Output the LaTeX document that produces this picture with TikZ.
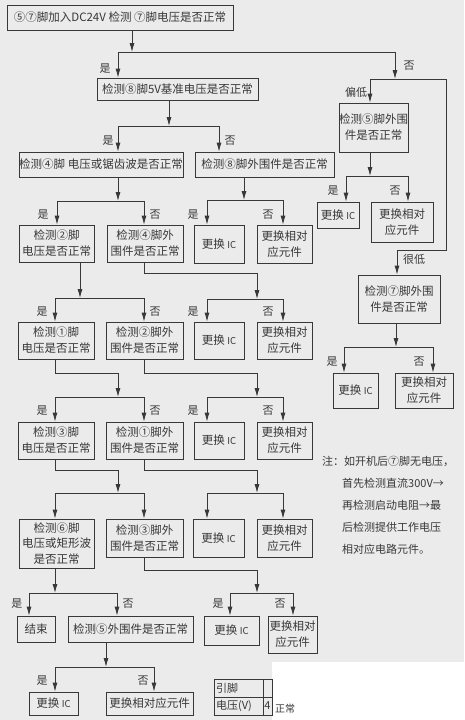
\documentclass[tikz,border=0pt]{standalone}
\usepackage{fontspec}
\setmainfont{Noto Sans CJK SC}
\usetikzlibrary{arrows.meta}
\definecolor{bg}{HTML}{EBEBEB}
\definecolor{ink}{HTML}{383838}
\newcommand{\ic}{{\fontsize{9.5}{9.5}\selectfont IC}}
\tikzset{
  box/.style={draw=ink, line width=0.8pt, inner sep=0pt, align=center, text=ink,
    font=\fontsize{11.5}{16}\selectfont},
  lab/.style={inner sep=0pt, text=ink, font=\fontsize{11}{12}\selectfont},
  arr/.style={draw=ink, line width=0.8pt, -{Latex[length=9pt,width=5pt]}},
  ln/.style={draw=ink, line width=0.8pt},
}
\newcommand{\fork}[7]{%
  \coordinate (#1-j) at (#2,#3);
  \coordinate (#1-l) at (#4,#3);
  \coordinate (#1-r) at (#5,#3);
  \draw[arr] (#1.south -| #1-j) -- (#1-j);
  \draw[ln] (#1-l) -- (#1-r);
  \draw[arr] (#1-l) -- (#1-l |- #6.north);
  \draw[arr] (#1-r) -- (#1-r |- #7.north);}
\newcommand{\jog}[9]{%
  \coordinate (#1-a) at (#2,#3);
  \coordinate (#1-b) at (#4,#3);
  \coordinate (#1-j) at (#4,#5);
  \coordinate (#1-l) at (#6,#5);
  \coordinate (#1-r) at (#7,#5);
  \draw[arr] (#1.south -| #1-a) -- (#1-a) -- (#1-b) -- (#1-j);
  \draw[ln] (#1-l) -- (#1-r);
  \draw[arr] (#1-l) -- (#1-l |- #8.north);
  \draw[arr] (#1-r) -- (#1-r |- #9.north);}
\begin{document}
\begin{tikzpicture}[x=1pt,y=-1pt]
\fill[bg] (0,0) rectangle (464,720);
\useasboundingbox (0,0) rectangle (464,720);

% main column
\node[box, minimum width=226pt, minimum height=25pt] (t) at (120,17.5) {⑤⑦脚加入DC24V 检测 ⑦脚电压是否正常};
\node[box, minimum width=161pt, minimum height=22pt] (b2) at (177.5,89) {检测⑧脚5V基准电压是否正常};
\node[box, minimum width=164pt, minimum height=25pt] (b3) at (101,164.5) {检测④脚 电压或锯齿波是否正常};
\node[box, minimum width=139pt, minimum height=25pt] (b4) at (264.5,164.5) {检测⑧脚外围件是否正常};

\node[box, minimum width=75pt, minimum height=37pt] (c1) at (56.5,243.5) {检测②脚\\电压是否正常};
\node[box, minimum width=76pt, minimum height=37pt] (c2) at (145,243.5) {检测④脚外\\围件是否正常};
\node[box, minimum width=50pt, minimum height=38pt] (c3) at (219,244) {更换 \ic};
\node[box, minimum width=55pt, minimum height=38pt] (c4) at (284.5,244) {更换相对\\应元件};

\node[box, minimum width=76pt, minimum height=37pt] (d1) at (56,340.5) {检测①脚\\电压是否正常};
\node[box, minimum width=77pt, minimum height=37pt] (d2) at (144.5,340.5) {检测②脚外\\围件是否正常};
\node[box, minimum width=50pt, minimum height=37pt] (d3) at (219,340.5) {更换 \ic};
\node[box, minimum width=55pt, minimum height=37pt] (d4) at (284.5,340.5) {更换相对\\应元件};

\node[box, minimum width=76pt, minimum height=37pt] (e1) at (56,440.5) {检测③脚\\电压是否正常};
\node[box, minimum width=77pt, minimum height=37pt] (e2) at (144.5,440.5) {检测①脚外\\围件是否正常};
\node[box, minimum width=50pt, minimum height=37pt] (e3) at (219,440.5) {更换 \ic};
\node[box, minimum width=55pt, minimum height=37pt] (e4) at (284.5,440.5) {更换相对\\应元件};

\node[box, minimum width=75pt, minimum height=49pt, font=\fontsize{11.5}{15.5}\selectfont] (f1) at (56.5,543.5) {检测⑥脚\\电压或矩形波\\是否正常};
\node[box, minimum width=77pt, minimum height=38pt] (f2) at (144.5,538) {检测③脚外\\围件是否正常};
\node[box, minimum width=51pt, minimum height=38pt] (f3) at (218.5,538) {更换 \ic};
\node[box, minimum width=55pt, minimum height=38pt] (f4) at (284.5,538) {更换相对\\应元件};

\node[box, minimum width=38pt, minimum height=26pt] (g1) at (36,629) {结束};
\node[box, minimum width=125pt, minimum height=26pt] (g2) at (130.5,629) {检测⑤外围件是否正常};
\node[box, minimum width=55pt, minimum height=29pt] (g3) at (231.5,630.5) {更换 \ic};
\node[box, minimum width=49pt, minimum height=37pt] (g4) at (292.5,634.5) {更换相对\\应元件};

\node[box, minimum width=49pt, minimum height=23pt] (h1) at (53.5,703.5) {更换 \ic};
\node[box, minimum width=87pt, minimum height=23pt] (h2) at (149.5,703.5) {更换相对应元件};

% right column
\node[box, minimum width=57pt, minimum height=49pt] (r1) at (373.5,127.5) {检测⑤脚外围\\件是否正常};
\node[box, minimum width=42pt, minimum height=26pt] (r2) at (338,215) {更换 \ic};
\node[box, minimum width=62pt, minimum height=40pt] (r3) at (402,222) {更换相对\\应元件};
\node[box, minimum width=82pt, minimum height=48pt] (r4) at (399,299) {检测⑦脚外围\\件是否正常};
\node[box, minimum width=45pt, minimum height=35pt] (r5) at (355.5,390.5) {更换 \ic};
\node[box, minimum width=58pt, minimum height=35pt] (r6) at (424,390.5) {更换相对\\应元件};

% connectors
\coordinate (tj) at (132,52);
\coordinate (tl) at (118,52);
\coordinate (tr) at (395,52);
\coordinate (rb) at (395,79);
\coordinate (rbl) at (370,79);
\coordinate (rbr) at (446,79);
\coordinate (rdn) at (446,250);
\coordinate (rlo) at (397,250);
\draw[arr] (t.south -| tj) -- (tj);
\draw[ln] (tl) -- (tr);
\draw[arr] (tl) -- (tl |- b2.north);
\draw[arr] (tr) -- (rb);
\draw[ln] (rbl) -- (rbr) -- (rdn) -- (rlo);
\draw[arr] (rbl) -- (rbl |- r1.north);
\draw[arr] (rlo) -- (rlo |- r4.north);

\fork{b2}{169}{126}{118}{219}{b3}{b4}
\fork{b3}{118}{201}{57}{144}{c1}{c2}
\fork{b4}{244}{200}{207}{283}{c3}{c4}
\fork{c1}{80}{298}{55}{144}{d1}{d2}
\jog{c2}{144}{273}{257}{299}{207}{283}{d3}{d4}
\jog{d1}{55}{373}{118}{397}{55}{144}{e1}{e2}
\jog{d2}{144}{373}{257}{397}{207}{283}{e3}{e4}
\jog{e1}{55}{470}{118}{493}{55}{144}{f1}{f2}
\jog{e2}{144}{470}{257}{493}{207}{283}{f3}{f4}
\fork{f1}{55}{593}{29}{117}{g1}{g2}
\jog{f2}{144}{570}{257}{593}{230}{293}{g3}{g4}
\fork{g2}{106}{667}{55}{154}{h1}{h2}
\fork{r1}{370}{176}{346}{408}{r2}{r3}
\fork{r4}{396}{347}{344}{433}{r5}{r6}

% labels
\node[lab] (l01) at (105,69) {是};
\node[lab] (l02) at (409,66) {否};
\node[lab] (l03) at (108,141) {是};
\node[lab] (l04) at (230,141) {否};
\node[lab] (l05) at (43,215) {是};
\node[lab] (l06) at (155,215) {否};
\node[lab] (l07) at (193,215) {是};
\node[lab] (l08) at (268,215) {否};
\node[lab] (l09) at (42,312) {是};
\node[lab] (l10) at (155,312) {否};
\node[lab] (l11) at (193,312) {是};
\node[lab] (l12) at (268,312) {否};
\node[lab] (l13) at (42,411) {是};
\node[lab] (l14) at (155,411) {否};
\node[lab] (l15) at (193,411) {是};
\node[lab] (l16) at (268,411) {否};
\node[lab] (l17) at (17,604) {是};
\node[lab] (l18) at (128,604) {否};
\node[lab] (l19) at (218,604) {是};
\node[lab] (l20) at (280,604) {否};
\node[lab] (l21) at (42,681) {是};
\node[lab] (l22) at (143,681) {否};
\node[lab] (l23) at (356,92) {偏低};
\node[lab] (l24) at (414,259) {很低};
\node[lab] (l25) at (333,191) {是};
\node[lab] (l26) at (395,191) {否};
\node[lab] (l27) at (332,362) {是};
\node[lab] (l28) at (419,362) {否};

% note
\node[anchor=north west, inner sep=0pt, align=left, text=ink,
  font=\fontsize{11}{22}\selectfont] (note) at (322,456)
  {注：如开机后⑦脚无电压，\\
   \hspace*{20pt}首先检测直流300V→\\
   \hspace*{20pt}再检测启动电阻→最\\
   \hspace*{20pt}后检测提供工作电压\\
   \hspace*{20pt}相对应电路元件。};

% bottom table fragment
\fill[white] (272,662) rectangle (464,720);
\draw[ln] (214,679) rectangle (272,715);
\draw[ln] (214,697) -- (272,697);
\draw[ln] (263,679) -- (263,715);
\node[lab, anchor=west] (tb1) at (216,688) {引脚};
\node[lab, anchor=west] (tb2) at (216,706) {电压(V)};
\node[lab] (tb3) at (267.5,706) {4};
\node[lab, font=\fontsize{10}{10}\selectfont] (tb4) at (285,709) {正常};
\end{tikzpicture}
\end{document}
